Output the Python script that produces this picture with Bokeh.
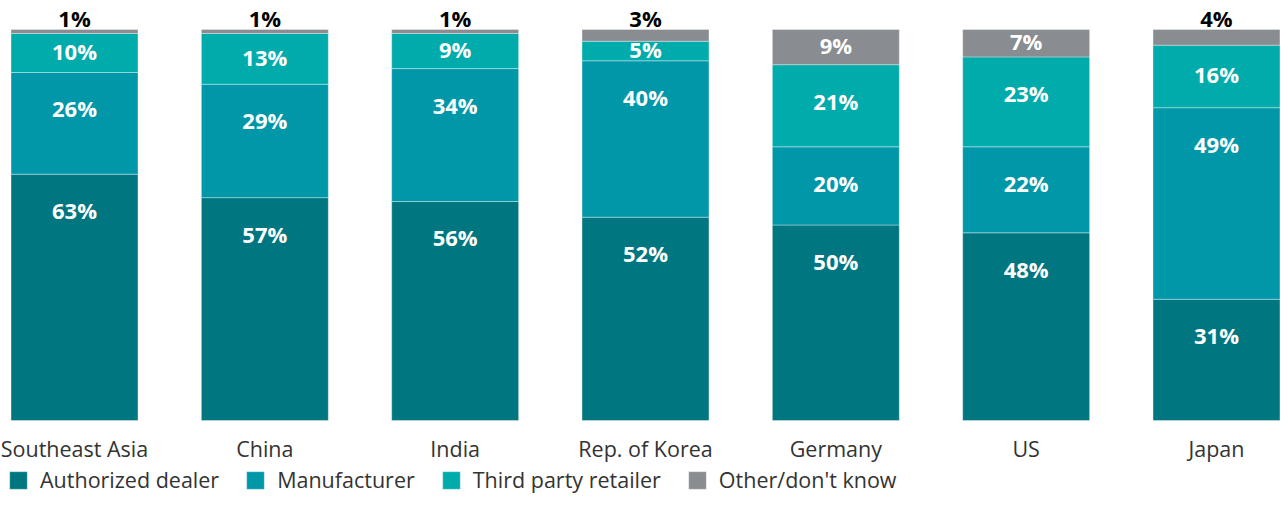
from bokeh.plotting import figure
from bokeh.models import ColumnDataSource, Range1d
from bokeh.core.properties import value
from bokeh.embed import file_html
from bokeh.resources import INLINE

categories = ["Southeast Asia", "China", "India", "Rep. of Korea", "Germany", "US", "Japan"]
authorized_dealer = [63, 57, 56, 52, 50, 48, 31]
manufacturer = [26, 29, 34, 40, 20, 22, 49]
third_party_retailer = [10, 13, 9, 5, 21, 23, 16]
other_dont_know = [1, 1, 1, 3, 9, 7, 4]
series_names = ["Authorized dealer", "Manufacturer", "Third party retailer", "Other/don't know"]
series_keys = ["dealer", "manufacturer", "third", "other"]
series_values = [authorized_dealer, manufacturer, third_party_retailer, other_dont_know]
colors = ["#007680", "#0097A9", "#00ABAB", "#898C90"]

FONT = value("Open Sans")
x = list(range(len(categories)))

p = figure(width=1280, height=494, output_backend="svg", toolbar_location=None,
           x_range=Range1d(-0.3888, 6.3363), y_range=Range1d(-18.93, 107.42),
           x_axis_type=None, y_axis_type=None, min_border=0)
p.outline_line_color = None
p.background_fill_color = "white"
p.border_fill_color = "white"

data = dict(x=x)
for k, vals in zip(series_keys, series_values):
    data[k] = vals
src = ColumnDataSource(data)

p.vbar_stack(series_keys, x="x", width=0.667, fill_color=colors, line_color="white",
             line_alpha=0.35, line_width=1, source=src, legend_label=series_names)

# segment labels
in_x, in_y, in_t = [], [], []
out_x, out_y, out_t = [], [], []
for i in x:
    bottom = 0
    for s, vals in enumerate(series_values):
        v = vals[i]
        top = bottom + v
        if s == len(series_values) - 1 and v < 5:
            out_x.append(i); out_y.append(top); out_t.append(f"{v}%")
        else:
            in_x.append(i); in_y.append(top - min(v / 2, 9.7)); in_t.append(f"{v}%")
        bottom = top

p.text(x=in_x, y=in_y, text=in_t, text_font=FONT, text_font_style="bold",
       text_font_size="22px", text_color="white", text_align="center",
       text_baseline="middle", y_offset=-2)
p.text(x=out_x, y=out_y, text=out_t, text_font=FONT, text_font_style="bold",
       text_font_size="22px", text_color="#000000", text_align="center",
       text_baseline="middle", y_offset=-12)

# category labels
p.text(x=x, y=[0] * len(x), text=categories, text_font=FONT, text_font_size="21.5px",
       text_color="#333333", text_align="center", text_baseline="middle", y_offset=28)

lg = p.legend[0]
lg.location = (7, 0)
lg.orientation = "horizontal"
lg.label_text_font = "Open Sans"
lg.label_text_font_size = "21.5px"
lg.label_text_color = "#333333"
lg.glyph_width = 22
lg.glyph_height = 22
lg.label_standoff = 11
lg.spacing = 25
lg.padding = 0
lg.margin = 0
lg.border_line_color = None
lg.background_fill_alpha = 0

open("out.html", "w").write(file_html(p, INLINE))
